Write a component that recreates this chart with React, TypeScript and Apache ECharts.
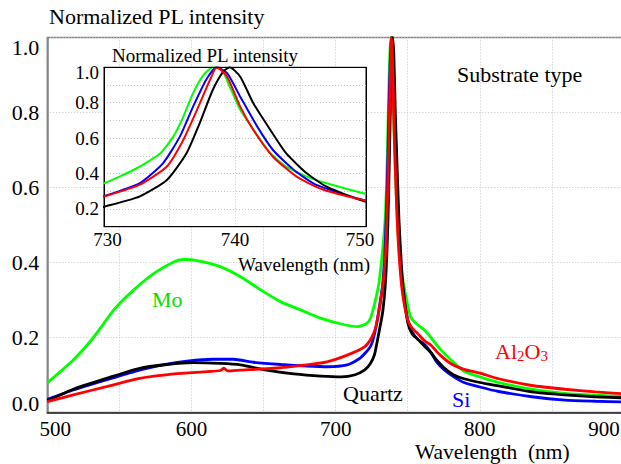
import React, { useEffect, useRef } from "react";
import * as echarts from "echarts";

const FONT = "Liberation Serif";

// Mo substrate (green)
const moWl = [500, 518, 532, 546, 560, 574, 588, 595, 604, 620, 634, 648, 662, 676, 690, 704, 715, 721, 724, 727, 730, 732.5, 734.3, 735.3, 736.05, 736.8, 737.6, 738.3, 739, 739.6, 740.4, 741.4, 742.7, 743.9, 745.5, 747, 750, 752, 755, 760, 764, 768, 773, 780, 789, 800, 813, 836, 859, 880, 900];
const moPL = [0.079, 0.14, 0.2, 0.273, 0.327, 0.371, 0.402, 0.408, 0.405, 0.389, 0.362, 0.327, 0.295, 0.273, 0.251, 0.236, 0.229, 0.236, 0.25, 0.29, 0.345, 0.43, 0.515, 0.61, 0.72, 0.854, 0.957, 1.0, 0.985, 0.89, 0.76, 0.65, 0.515, 0.44, 0.383, 0.345, 0.285, 0.255, 0.24, 0.225, 0.21, 0.19, 0.167, 0.14, 0.11, 0.095, 0.08, 0.062, 0.051, 0.046, 0.043];

// Si substrate (blue)
const siWl = [500, 518, 541, 564, 583, 597, 615, 629, 643, 662, 680, 694, 708, 717, 724, 727, 730, 732.7, 734.5, 735.8, 736.8, 737.8, 738.6, 739.4, 740.4, 741.7, 742.9, 744.5, 746.2, 750, 753, 757, 762, 766, 770, 775, 782, 789, 800, 813, 836, 859, 880, 900];
const siPL = [0.035, 0.06, 0.087, 0.113, 0.129, 0.137, 0.142, 0.142, 0.134, 0.128, 0.124, 0.122, 0.127, 0.145, 0.175, 0.21, 0.273, 0.345, 0.458, 0.61, 0.778, 0.93, 1.0, 0.967, 0.834, 0.665, 0.533, 0.42, 0.336, 0.247, 0.215, 0.195, 0.18, 0.16, 0.135, 0.115, 0.095, 0.08, 0.068, 0.056, 0.042, 0.033, 0.03, 0.028];

// Quartz substrate (black)
const qzWl = [500, 518, 541, 564, 583, 601, 620, 634, 652, 671, 690, 704, 713, 720, 724, 727, 730, 732.7, 734.8, 736.3, 737.3, 738.3, 739.1, 739.6, 740.4, 741.4, 742.7, 743.9, 745.5, 747, 750, 753, 757, 762, 766, 770, 775, 782, 789, 800, 813, 836, 859, 880, 900];
const qzPL = [0.031, 0.062, 0.091, 0.118, 0.128, 0.133, 0.131, 0.127, 0.113, 0.103, 0.097, 0.095, 0.1, 0.113, 0.13, 0.155, 0.213, 0.27, 0.364, 0.515, 0.684, 0.872, 0.976, 1.0, 0.947, 0.797, 0.646, 0.515, 0.4, 0.326, 0.24, 0.21, 0.195, 0.175, 0.16, 0.14, 0.12, 0.1, 0.09, 0.08, 0.071, 0.055, 0.047, 0.042, 0.039];

// Al2O3 substrate (red)
const alWl = [500, 518, 541, 564, 588, 611, 620, 622.5, 625, 634, 657, 680, 694, 708, 720, 725, 728, 730, 732.7, 734.8, 736.05, 737.1, 738.1, 738.6, 739.4, 740.4, 741.4, 742.9, 744.7, 746.7, 750, 753, 757, 762, 766, 772, 780, 789, 800, 813, 836, 859, 880, 900];
const alPL = [0.029, 0.047, 0.069, 0.091, 0.103, 0.109, 0.112, 0.118, 0.111, 0.113, 0.118, 0.127, 0.135, 0.153, 0.175, 0.2, 0.23, 0.27, 0.336, 0.44, 0.59, 0.76, 0.93, 1.0, 0.947, 0.778, 0.646, 0.495, 0.383, 0.31, 0.247, 0.225, 0.21, 0.19, 0.18, 0.155, 0.13, 0.115, 0.105, 0.09, 0.072, 0.062, 0.055, 0.05];

const mainXTicks = [500, 600, 700, 800, 900];
const mainYTicks = [0, 0.2, 0.4, 0.6, 0.8, 1.0];
const insetXTicks = [730, 740, 750];
const insetYTicks = [0.2, 0.4, 0.6, 0.8, 1.0];

const seriesDefs = [
  { name: "Mo", wl: moWl, pl: moPL, color: "#00ff00" },
  { name: "Si", wl: siWl, pl: siPL, color: "#0000ff" },
  { name: "Quartz", wl: qzWl, pl: qzPL, color: "#000000" },
  { name: "Al2O3", wl: alWl, pl: alPL, color: "#ff0000" },
];

const dotted = { color: "#c4c4c4", width: 1, type: [1, 2] as any };

function buildOption(): any {
  const series: any[] = [];
  seriesDefs.forEach((s) => {
    const data = s.wl.map((w, i) => [w, s.pl[i]]);
    series.push({
      type: "line",
      name: s.name,
      data,
      xAxisIndex: 0,
      yAxisIndex: 0,
      showSymbol: false,
      smooth: 0.2,
      lineStyle: { color: s.color, width: 2.8 },
      z: 2,
    });
    series.push({
      type: "line",
      name: s.name + " (inset)",
      data,
      xAxisIndex: 1,
      yAxisIndex: 1,
      showSymbol: false,
      smooth: 0.2,
      lineStyle: { color: s.color, width: 2 },
      z: 8,
    });
  });

  const mainLabelFont = { fontSize: 22, fontFamily: FONT, color: "#000" };
  const mainXLabelFont = { fontSize: 21, fontFamily: FONT, color: "#000", lineHeight: 16 };
  const insetLabelFont = { fontSize: 19, fontFamily: FONT, color: "#000" };

  return {
    animation: false,
    backgroundColor: "#ffffff",
    textStyle: { fontFamily: FONT },
    grid: [
      {
        left: 47.3,
        top: 37.5,
        right: -3,
        bottom: 51.5,
        containLabel: false,
        outerBoundsMode: "none",
        show: true,
        borderColor: "#808080",
        borderWidth: 1.5,
        backgroundColor: "transparent",
      },
      {
        left: 104,
        top: 67.3,
        width: 262,
        height: 159.4,
        containLabel: false,
        outerBoundsMode: "none",
        show: true,
        borderColor: "#000",
        borderWidth: 1,
        backgroundColor: "#ffffff",
        z: 5,
      },
    ],
    xAxis: [
      {
        type: "value",
        gridIndex: 0,
        min: 500,
        max: 900,
        interval: 50,
        axisLine: { show: true, lineStyle: { color: "#222", width: 1.5 } },
        axisTick: { show: false },
        splitLine: { show: true, lineStyle: dotted },
        axisLabel: {
          ...mainXLabelFont,
          margin: 8,
          formatter: (v: number) => {
            if (!mainXTicks.includes(v)) return "";
            if (v === mainXTicks[0]) return "{first|" + v + "}";
            if (v === mainXTicks[mainXTicks.length - 1]) return "{last|" + v + "}";
            return "{n|" + v + "}";
          },
          rich: {
            n: { ...mainXLabelFont },
            first: { ...mainXLabelFont, padding: [0, 0, 0, 16] },
            last: { ...mainXLabelFont, padding: [0, 40, 0, 0] },
          },
        },
      },
      {
        type: "value",
        gridIndex: 1,
        min: 730,
        max: 750,
        interval: 5,
        z: 6,
        axisLine: { show: true, onZero: false, lineStyle: { color: "#000", width: 1 } },
        axisTick: { show: false },
        splitLine: { show: true, showMinLine: false, showMaxLine: false, lineStyle: dotted },
        axisLabel: {
          ...insetLabelFont,
          margin: 3,
          formatter: (v: number) => {
            if (!insetXTicks.includes(v)) return "";
            if (v === insetXTicks[0]) return "{first|" + v + "}";
            if (v === insetXTicks[insetXTicks.length - 1]) return "{last|" + v + "}";
            return "{n|" + v + "}";
          },
          rich: {
            n: { ...insetLabelFont },
            first: { ...insetLabelFont, padding: [0, 0, 0, 7] },
            last: { ...insetLabelFont, padding: [0, 12, 0, 0] },
          },
        },
      },
      {
        type: "value",
        gridIndex: 1,
        position: "top",
        min: 730,
        max: 750,
        interval: 5,
        z: 9,
        axisLine: { show: true, onZero: false, lineStyle: { color: "#000", width: 1 } },
        axisTick: { show: false },
        axisLabel: { show: false },
        splitLine: { show: false },
      },
    ],
    yAxis: [
      {
        type: "value",
        gridIndex: 0,
        min: 0,
        max: 1,
        interval: 0.2,
        axisLine: { show: true, lineStyle: { color: "#808080", width: 1.5 } },
        axisTick: { show: false },
        splitLine: { show: true, lineStyle: dotted },
        axisLabel: {
          ...mainLabelFont,
          margin: 8,
          formatter: (v: number) => {
            const hit = mainYTicks.find((t) => Math.abs(t - v) < 1e-6);
            if (hit === undefined) return "";
            const s = hit.toFixed(1);
            if (hit === 0) return "{bot|" + s + "}";
            if (hit === 1) return "{top|" + s + "}";
            return "{n|" + s + "}";
          },
          rich: {
            n: { ...mainLabelFont },
            bot: { ...mainLabelFont, padding: [0, 0, 19, 0] },
            top: { ...mainLabelFont, padding: [20, 0, 0, 0] },
          },
        },
      },
      {
        type: "value",
        gridIndex: 1,
        min: 0.1,
        max: 1.0,
        interval: 0.1,
        z: 6,
        axisLine: { show: true, onZero: false, lineStyle: { color: "#000", width: 1 } },
        axisTick: { show: false },
        splitLine: { show: true, showMinLine: false, showMaxLine: false, lineStyle: dotted },
        axisLabel: {
          ...insetLabelFont,
          margin: 5,
          formatter: (v: number) => {
            const hit = insetYTicks.find((t) => Math.abs(t - v) < 1e-6);
            if (hit === undefined) return "";
            const s = hit.toFixed(1);
            if (hit === 1) return "{top|" + s + "}";
            return "{n|" + s + "}";
          },
          rich: {
            n: { ...insetLabelFont },
            top: { ...insetLabelFont, padding: [10, 0, 0, 0] },
          },
        },
      },
      {
        type: "value",
        gridIndex: 1,
        position: "right",
        min: 0.1,
        max: 1.0,
        interval: 0.1,
        z: 9,
        axisLine: { show: true, onZero: false, lineStyle: { color: "#000", width: 1 } },
        axisTick: { show: false },
        axisLabel: { show: false },
        splitLine: { show: false },
      },
    ],
    series,
    graphic: [
      {
        type: "text",
        x: 49,
        y: 16.5,
        z: 20,
        style: { text: "Normalized PL intensity", fontSize: 22, fontFamily: FONT, fill: "#000", verticalAlign: "middle" },
      },
      {
        type: "text",
        x: 112,
        y: 55.4,
        z: 20,
        style: { text: "Normalized PL intensity", fontSize: 19, fontFamily: FONT, fill: "#000", verticalAlign: "middle" },
      },
      {
        type: "text",
        x: 370,
        y: 264.4,
        z: 20,
        style: { text: "Wavelength (nm)", fontSize: 19, fontFamily: FONT, fill: "#000", align: "right", verticalAlign: "middle" },
      },
      {
        type: "text",
        x: 415,
        y: 452,
        z: 20,
        style: { text: "Wavelength\u00a0\u00a0(nm)", fontSize: 21.5, lineHeight: 16, fontFamily: FONT, fill: "#000", verticalAlign: "middle" },
      },
      {
        type: "text",
        x: 457,
        y: 74.5,
        z: 20,
        style: { text: "Substrate type", fontSize: 22, fontFamily: FONT, fill: "#000", verticalAlign: "middle" },
      },
      {
        type: "text",
        x: 152,
        y: 299.7,
        z: 20,
        style: { text: "Mo", fontSize: 22, fontFamily: FONT, fill: "#00e000", verticalAlign: "middle" },
      },
      {
        type: "text",
        x: 343,
        y: 393.7,
        z: 20,
        style: { text: "Quartz", fontSize: 22, fontFamily: FONT, fill: "#000", verticalAlign: "middle" },
      },
      {
        type: "text",
        x: 452,
        y: 399.5,
        z: 20,
        style: { text: "Si", fontSize: 22, fontFamily: FONT, fill: "#0000ff", verticalAlign: "middle" },
      },
      {
        type: "text",
        x: 495,
        y: 351,
        z: 20,
        style: {
          text: "{n|Al}{s|2}{n|O}{s|3}",
          verticalAlign: "middle",
          rich: {
            n: { fontSize: 22, fontFamily: FONT, fill: "#ff0000" },
            s: { fontSize: 15, fontFamily: FONT, fill: "#ff0000", padding: [10, 0, 0, 0] },
          },
        },
      },
    ],
  };
}

export default function App() {
  const ref = useRef<HTMLDivElement>(null);
  useEffect(() => {
    if (!ref.current) return;
    const chart = echarts.init(ref.current, undefined, { renderer: "svg" });
    chart.setOption(buildOption());
    return () => {
      chart.dispose();
    };
  }, []);
  return (
    <div
      ref={ref}
      style={{ position: "fixed", left: 0, top: 0, width: 621, height: 464, background: "#fff" }}
    />
  );
}
